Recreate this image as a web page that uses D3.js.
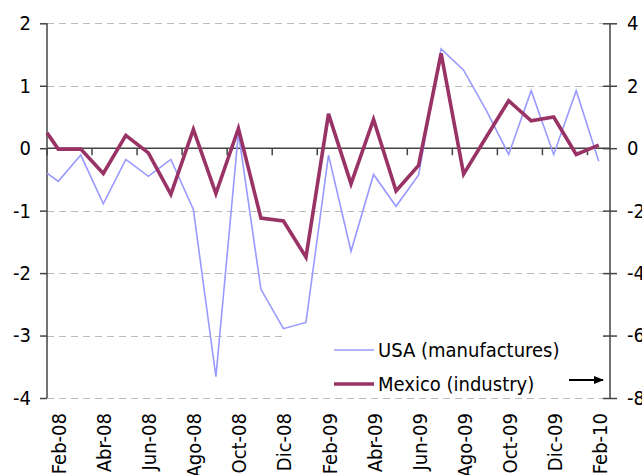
<!DOCTYPE html>
<html>
<head>
<meta charset="utf-8">
<script src="https://cdn.jsdelivr.net/npm/d3@7"></script>
<style>
  html, body { margin: 0; padding: 0; background: #fff; }
  #chart { width: 642px; height: 475px; overflow: hidden; }
  text { font-family: 'DejaVu Sans Condensed', 'DejaVu Sans', sans-serif; fill: #000; }
</style>
</head>
<body>
<div id="chart"></div>
<script>
// ── Data ─────────────────────────────────────────────────────────
// first entry (Ene-08) is the lead-in point sitting on the left edge
const months = ['Ene-08',
  'Feb-08', 'Mar-08', 'Abr-08', 'May-08', 'Jun-08', 'Jul-08', 'Ago-08', 'Sep-08', 'Oct-08', 'Nov-08', 'Dic-08', 'Ene-09',
  'Feb-09', 'Mar-09', 'Abr-09', 'May-09', 'Jun-09', 'Jul-09', 'Ago-09', 'Sep-09', 'Oct-09', 'Nov-09', 'Dic-09', 'Ene-10',
  'Feb-10'];

// USA manufactures, left axis
const usaValues = [-0.40,
  -0.53, -0.11, -0.89, -0.18, -0.45, -0.18, -0.98, -3.66, 0.25, -2.26, -2.89, -2.79,
  -0.11, -1.65, -0.42, -0.93, -0.43, 1.59, 1.25, 0.61, -0.10, 0.92, -0.10, 0.92,
  -0.21];

// Mexico industry, right axis
const mexValues = [0.49,
  -0.03, -0.03, -0.81, 0.41, -0.15, -1.48, 0.60, -1.45, 0.63, -2.24, -2.33, -3.49,
  1.10, -1.14, 0.92, -1.37, -0.55, 3.04, -0.83, 0.35, 1.52, 0.88, 1.00, -0.20,
  0.10];

const leftTicks = [2, 1, 0, -1, -2, -3, -4];
const rightTicks = [4, 2, 0, -2, -4, -6, -8];
const legendLabels = ['USA (manufactures)', 'Mexico (industry)'];

const USA_COLOR = '#9999ff';
const MEX_COLOR = '#993366';

// ── Layout ───────────────────────────────────────────────────────
const W = 642, H = 475;
const plot = { left: 47, right: 610, top: 23.3, bottom: 398 };
const FONT = "'DejaVu Sans Condensed', 'DejaVu Sans', sans-serif";

const svg = d3.select('#chart')
  .append('svg')
  .attr('width', W)
  .attr('height', H);

const cats = months.slice(1);
const x = d3.scaleBand()
  .domain(cats)
  .range([plot.left, plot.right])
  .padding(0);
const bw = x.bandwidth();
const xPos = (i) => i === 0 ? x.range()[0] : x(months[i]) + bw / 2;

const yL = d3.scaleLinear().domain([-4, 2]).range([plot.bottom, plot.top]);
const yR = d3.scaleLinear().domain([-8, 4]).range([plot.bottom, plot.top]);

// plain hyphen for negatives, like the original
const fmt = d => String(d);

// ── Grid ─────────────────────────────────────────────────────────
svg.append('g')
  .selectAll('line')
  .data(leftTicks.filter(t => t !== 0))
  .enter()
  .append('line')
  .attr('x1', plot.left)
  .attr('x2', plot.right)
  .attr('y1', d => Math.round(yL(d)) + 0.5)
  .attr('y2', d => Math.round(yL(d)) + 0.5)
  .attr('stroke', '#bdbdbd')
  .attr('stroke-width', 1)
  .attr('stroke-dasharray', '7,5');

// ── Axes ─────────────────────────────────────────────────────────
const leftAxis = d3.axisLeft(yL)
  .tickValues(leftTicks)
  .tickSize(7)
  .tickPadding(9)
  .tickFormat(fmt);

const gl = svg.append('g')
  .attr('transform', `translate(${plot.left},0)`)
  .call(leftAxis);
gl.select('.domain').remove();
gl.append('line')
  .attr('y1', plot.top).attr('y2', plot.bottom)
  .attr('stroke', '#444').attr('stroke-width', 1.5);
gl.selectAll('.tick line').attr('stroke', '#444').attr('stroke-width', 1.5);
gl.selectAll('.tick text')
  .attr('font-size', 20)
  .style('font-family', FONT)
  .attr('fill', '#000');

const rightAxis = d3.axisRight(yR)
  .tickValues(rightTicks)
  .tickSizeInner(7)
  .tickSizeOuter(0)
  .tickPadding(10)
  .tickFormat(fmt);

const gr = svg.append('g')
  .attr('transform', `translate(${plot.right},0)`)
  .call(rightAxis);
gr.select('.domain').remove();
gr.append('line')
  .attr('y1', plot.top).attr('y2', plot.bottom)
  .attr('stroke', '#444').attr('stroke-width', 1.5);
gr.selectAll('.tick line')
  .attr('x1', -7)
  .attr('stroke', '#444').attr('stroke-width', 1.5);
gr.selectAll('.tick text')
  .attr('font-size', 20)
  .style('font-family', FONT)
  .attr('fill', '#000');

// Category axis crossing at zero
const y0 = yL(0);
svg.append('line')
  .attr('x1', plot.left).attr('x2', plot.right)
  .attr('y1', y0).attr('y2', y0)
  .attr('stroke', '#444').attr('stroke-width', 1.5);

const labelled = cats.filter((c, i) => i % 2 === 0);
svg.append('g')
  .selectAll('line')
  .data(labelled)
  .enter()
  .append('line')
  .attr('x1', d => x(d))
  .attr('x2', d => x(d))
  .attr('y1', y0)
  .attr('y2', y0 + 7)
  .attr('stroke', '#444')
  .attr('stroke-width', 1.5);

svg.append('g')
  .selectAll('text')
  .data(labelled)
  .enter()
  .append('text')
  .attr('transform', d => `translate(${x(d) + bw / 2 + 1},${plot.bottom + 15}) rotate(-90)`)
  .attr('dy', '0.35em')
  .attr('text-anchor', 'end')
  .attr('font-size', 20)
  .text(d => d);

// ── Lines ────────────────────────────────────────────────────────
const usaLine = d3.line()
  .x((d, i) => xPos(i))
  .y(d => yL(d));

const mexLine = d3.line()
  .x((d, i) => xPos(i))
  .y(d => yR(d));

svg.append('path')
  .datum(usaValues)
  .attr('d', usaLine)
  .attr('fill', 'none')
  .attr('stroke', USA_COLOR)
  .attr('stroke-width', 1.6)
  .attr('stroke-linejoin', 'miter');

svg.append('path')
  .datum(mexValues)
  .attr('d', mexLine)
  .attr('fill', 'none')
  .attr('stroke', MEX_COLOR)
  .attr('stroke-width', 3.6)
  .attr('stroke-linejoin', 'miter');

// ── Legend ───────────────────────────────────────────────────────
const legend = svg.append('g');
legend.append('rect')
  .attr('x', 286)
  .attr('y', 331)
  .attr('width', 317)
  .attr('height', 65)
  .attr('fill', '#fff');

const legendRows = [
  { label: legendLabels[0], color: USA_COLOR, width: 1.6, y: 350 },
  { label: legendLabels[1], color: MEX_COLOR, width: 3.6, y: 384 },
];

legend.selectAll('.legend-swatch')
  .data(legendRows)
  .enter()
  .append('line')
  .attr('class', 'legend-swatch')
  .attr('x1', 334).attr('x2', 374)
  .attr('y1', d => d.y).attr('y2', d => d.y)
  .attr('stroke', d => d.color)
  .attr('stroke-width', d => d.width);

legend.selectAll('.legend-label')
  .data(legendRows)
  .enter()
  .append('text')
  .attr('class', 'legend-label')
  .attr('x', 378)
  .attr('y', d => d.y)
  .attr('dy', '0.35em')
  .attr('font-size', 20)
  .text(d => d.label);

// Arrow pointing at the right axis (Mexico series)
svg.append('defs')
  .append('marker')
  .attr('id', 'arrow')
  .attr('viewBox', '0 0 10 10')
  .attr('refX', 9)
  .attr('refY', 5)
  .attr('markerWidth', 5)
  .attr('markerHeight', 5)
  .attr('orient', 'auto')
  .append('path')
  .attr('d', 'M0,1 L10,5 L0,9 Z')
  .attr('fill', '#000');

svg.append('line')
  .attr('x1', 569).attr('x2', 603)
  .attr('y1', 380).attr('y2', 380)
  .attr('stroke', '#000')
  .attr('stroke-width', 2)
  .attr('marker-end', 'url(#arrow)');
</script>
</body>
</html>
